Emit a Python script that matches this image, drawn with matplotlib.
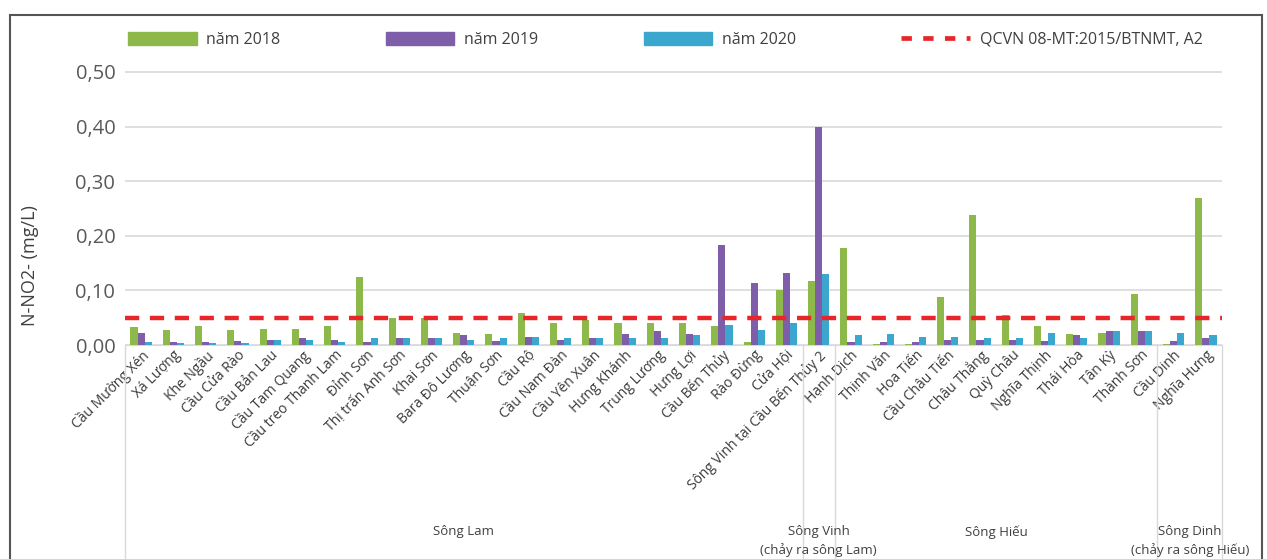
import matplotlib
matplotlib.use("Agg")
import matplotlib.pyplot as plt
import numpy as np
from matplotlib.patches import Rectangle, Patch
from matplotlib.lines import Line2D

plt.rcParams['font.family'] = ['Open Sans', 'DejaVu Sans']

categories = ["Cầu Mường Xén", "Xá Lượng", "Khe Ngầu", "Cầu Cửa Rào", "Cầu Bản Lau",
              "Cầu Tam Quang", "Cầu treo Thanh Lam", "Đỉnh Sơn", "Thị trấn Anh Sơn",
              "Khai Sơn", "Bara Đô Lương", "Thuận Sơn", "Cầu Rộ", "Cầu Nam Đàn",
              "Cầu Yên Xuân", "Hưng Khánh", "Trung Lương", "Hưng Lợi", "Cầu Bến Thủy",
              "Rào Đừng", "Cửa Hội", "Sông Vinh tại Cầu Bến Thủy 2", "Hạnh Dịch",
              "Thịnh Văn", "Hoa Tiến", "Cầu Châu Tiến", "Châu Thắng", "Quỳ Châu",
              "Nghĩa Thịnh", "Thái Hòa", "Tân Kỳ", "Thành Sơn", "Cầu Dinh", "Nghĩa Hưng"]

y2018 = [0.033, 0.027, 0.035, 0.027, 0.030, 0.030, 0.035, 0.125, 0.050, 0.050,
         0.022, 0.020, 0.058, 0.040, 0.045, 0.040, 0.040, 0.040, 0.035, 0.005,
         0.100, 0.117, 0.177, 0.001, 0.001, 0.088, 0.238, 0.055, 0.035, 0.020,
         0.022, 0.093, 0.002, 0.270]
y2019 = [0.022, 0.005, 0.005, 0.008, 0.010, 0.012, 0.010, 0.005, 0.012, 0.012,
         0.018, 0.008, 0.015, 0.010, 0.012, 0.020, 0.025, 0.020, 0.183, 0.113,
         0.132, 0.400, 0.005, 0.006, 0.005, 0.010, 0.010, 0.010, 0.008, 0.018,
         0.025, 0.025, 0.008, 0.012]
y2020 = [0.005, 0.003, 0.003, 0.004, 0.010, 0.010, 0.006, 0.012, 0.012, 0.012,
         0.010, 0.013, 0.015, 0.012, 0.012, 0.012, 0.012, 0.018, 0.037, 0.028,
         0.040, 0.130, 0.018, 0.020, 0.015, 0.015, 0.012, 0.012, 0.022, 0.012,
         0.025, 0.025, 0.022, 0.018]
limit_value = 0.05

groups = ["Sông Lam", "Sông Vinh\n(chảy ra sông Lam)", "Sông Hiếu", "Sông Dinh\n(chảy ra sông Hiếu)"]
group_sizes = [21, 1, 10, 2]

series_labels = ["năm 2018", "năm 2019", "năm 2020"]
limit_label = "QCVN 08-MT:2015/BTNMT, A2"
yticks = [0.0, 0.1, 0.2, 0.3, 0.4, 0.5]

c_green = "#8DB84A"
c_violet = "#7E5EA8"
c_blue = "#3BA7CE"
c_red = "#E8262A"

W, H = 1267, 559
fig = plt.figure(figsize=(W / 100, H / 100), dpi=100)
ax_left, ax_right, ax_bottom, ax_top = 125, 1222, 345, 61
ax = fig.add_axes([ax_left / W, 1 - ax_bottom / H, (ax_right - ax_left) / W, (ax_bottom - ax_top) / H])

n = len(categories)
x = np.arange(n)
bw = 0.22
ax.bar(x - bw, y2018, bw, color=c_green, label=series_labels[0], zorder=3)
ax.bar(x, y2019, bw, color=c_violet, label=series_labels[1], zorder=3)
ax.bar(x + bw, y2020, bw, color=c_blue, label=series_labels[2], zorder=3)
ax.plot([-0.5, n - 0.5], [limit_value, limit_value], color=c_red, lw=3.2,
        dashes=(3.2, 2.4), zorder=4, label=limit_label)

ax.set_xlim(-0.5, n - 0.5)
ax.set_ylim(0, 0.52)
ax.set_yticks(yticks)
ax.set_yticklabels([f"{v:.2f}".replace(".", ",") for v in yticks], fontsize=14.5, color="#595959")
ax.yaxis.grid(True, color="#D9D9D9", lw=1.2, zorder=0)
ax.set_axisbelow(True)
for s in ["top", "right", "left"]:
    ax.spines[s].set_visible(False)
ax.spines["bottom"].set_color("#D9D9D9")
ax.tick_params(axis="y", length=0, pad=7)
ax.tick_params(axis="x", length=0, pad=2)
ax.set_xticks(x)
ax.set_xticklabels(categories, rotation=45, ha="right", rotation_mode="anchor",
                   fontsize=10, color="#3A3A3A")

ax.set_ylabel("N-NO2- (mg/L)", fontsize=13, color="#404040")
ax.yaxis.set_label_coords(-0.078, 0.28)

# group separators and labels
trans = ax.get_xaxis_transform()
bounds = np.concatenate([[0], np.cumsum(group_sizes)]) - 0.5
for b in bounds:
    ax.plot([b, b], [0, -0.76], transform=trans, color="#D9D9D9", lw=1, clip_on=False)
for i, g in enumerate(groups):
    cx = (bounds[i] + bounds[i + 1]) / 2
    ax.text(cx, -0.635, g, transform=trans, ha="center", va="top", fontsize=9.5,
            color="#404040", linespacing=1.4)

# legend
handles = [Patch(color=c_green), Patch(color=c_violet), Patch(color=c_blue),
           Line2D([0], [0], color=c_red, lw=3.4, dashes=(2.2, 2.4))]
fig.legend(handles, series_labels + [limit_label], loc="center", ncol=4,
           bbox_to_anchor=(0.525, 1 - 40 / H), frameon=False, fontsize=11.5,
           handlelength=4.3, handleheight=0.8, handletextpad=0.6,
           columnspacing=6.6, labelcolor="#404040")

# outer frame
fig.patches.append(Rectangle((10 / W, -0.01), (1262 - 10) / W, (H - 15) / H + 0.01,
                             transform=fig.transFigure, fill=False, ec="#555555", lw=1.5))

fig.savefig("out.png", dpi=100)
